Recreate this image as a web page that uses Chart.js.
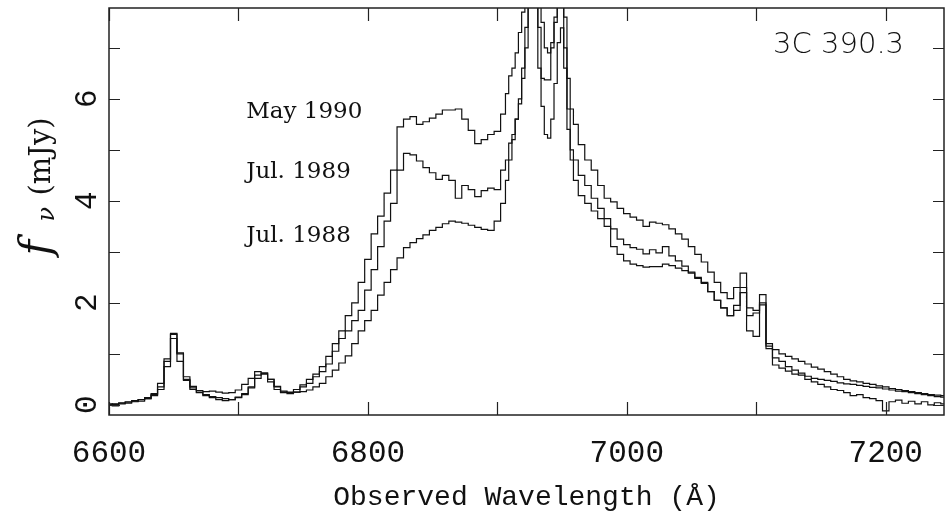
<!DOCTYPE html>
<html>
<head>
<meta charset="utf-8">
<script src="https://cdn.jsdelivr.net/npm/chart.js@4.4.1/dist/chart.umd.min.js"></script>
<style>
  html, body { margin: 0; padding: 0; background: #fff; }
  #spectrum { display: block; }
</style>
</head>
<body>
<canvas id="spectrum" width="945" height="514"></canvas>
<script>
// observed wavelength grid (Angstrom), finer across the narrow Halpha / [NII] peaks
var wavelength = [
  6600, 6605, 6610, 6615, 6620, 6625, 6630, 6635, 6640, 6645,
  6650, 6655, 6660, 6665, 6670, 6675, 6680, 6685, 6690, 6695,
  6700, 6705, 6710, 6715, 6720, 6725, 6730, 6735, 6740, 6745,
  6750, 6755, 6760, 6765, 6770, 6775, 6780, 6785, 6790, 6795,
  6800, 6805, 6810, 6815, 6820, 6825, 6830, 6835, 6840, 6845,
  6850, 6855, 6860, 6865, 6870, 6875, 6880, 6885, 6890, 6895,
  6900, 6905, 6907.5, 6910, 6912.5, 6915, 6917.5, 6920, 6922.5, 6925,
  6927.5, 6930, 6932.5, 6935, 6937.5, 6940, 6942.5, 6945, 6947.5, 6950,
  6952.5, 6955, 6957.5, 6960, 6965, 6970, 6975, 6980, 6985, 6990, 6995,
  7000, 7005, 7010, 7015, 7020, 7025, 7030, 7035, 7040, 7045,
  7050, 7055, 7060, 7065, 7070, 7075, 7080, 7085, 7090, 7095,
  7100, 7105, 7110, 7115, 7120, 7125, 7130, 7135, 7140, 7145,
  7150, 7155, 7160, 7165, 7170, 7175, 7180, 7185, 7190, 7195,
  7200, 7205, 7210, 7215, 7220, 7225, 7230, 7235, 7240, 7245
];

// f_nu in mJy
var may1990 = [
  0.00, 0.01, 0.03, 0.05, 0.07, 0.10, 0.14, 0.22, 0.42, 0.90,
  1.38, 1.00, 0.50, 0.33, 0.25, 0.20, 0.16, 0.14, 0.12, 0.10,
  0.14, 0.20, 0.33, 0.52, 0.62, 0.50, 0.36, 0.27, 0.25, 0.30,
  0.39, 0.50, 0.60, 0.75, 0.95, 1.20, 1.45, 1.75, 2.00, 2.40,
  2.85, 3.35, 3.70, 4.15, 4.60, 5.45, 5.60, 5.65, 5.50, 5.55,
  5.62, 5.70, 5.78, 5.78, 5.80, 5.60, 5.38, 5.12, 5.20, 5.30,
  5.36, 5.70, 6.10, 6.45, 6.60, 6.90, 7.30, 7.70, 9.00, 9.00,
  9.00, 9.00, 8.20, 7.50, 7.00, 6.90, 7.10, 7.50, 9.00, 9.00,
  7.60, 6.40, 5.80, 5.50, 5.10, 4.80, 4.60, 4.30, 4.05, 3.98, 3.85,
  3.75, 3.68, 3.62, 3.50, 3.58, 3.56, 3.53, 3.45, 3.35, 3.25,
  3.10, 2.95, 2.80, 2.60, 2.40, 2.20, 2.08, 2.30, 2.58, 1.90,
  1.85, 2.16, 1.20, 1.08, 1.00, 0.95, 0.90, 0.85, 0.80, 0.74,
  0.70, 0.65, 0.60, 0.55, 0.50, 0.47, 0.45, 0.42, 0.40, 0.37,
  0.35, 0.32, 0.30, 0.28, 0.26, 0.24, 0.22, 0.20, 0.19, 0.18
];

var jul1989 = [
  0.02, -0.02, 0.04, 0.03, 0.08, 0.07, 0.12, 0.20, 0.35, 0.85,
  1.40, 0.85, 0.48, 0.30, 0.24, 0.18, 0.14, 0.10, 0.08, 0.10,
  0.15, 0.22, 0.35, 0.58, 0.60, 0.50, 0.35, 0.25, 0.22, 0.25,
  0.35, 0.42, 0.55, 0.65, 0.80, 1.05, 1.30, 1.45, 1.65, 1.85,
  2.25, 2.65, 3.10, 3.60, 3.95, 4.60, 4.93, 4.90, 4.78, 4.65,
  4.55, 4.42, 4.50, 4.40, 4.05, 4.30, 4.22, 4.08, 4.20, 4.25,
  4.22, 4.60, 4.80, 5.13, 5.30, 5.60, 5.90, 6.40, 7.40, 9.00,
  9.00, 9.00, 7.40, 6.40, 6.37, 6.37, 7.00, 7.60, 9.00, 9.00,
  6.60, 5.40, 5.00, 4.80, 4.50, 4.30, 4.05, 3.85, 3.65, 3.45, 3.25,
  3.14, 3.08, 3.05, 2.96, 3.04, 2.98, 3.10, 2.92, 2.82, 2.72,
  2.60, 2.48, 2.38, 2.22, 2.05, 1.90, 1.75, 1.95, 2.30, 1.75,
  1.80, 2.00, 1.15, 0.78, 0.72, 0.66, 0.60, 0.58, 0.50, 0.45,
  0.40, 0.35, 0.30, 0.28, 0.24, 0.18, 0.20, 0.14, 0.12, 0.08,
  -0.12, 0.06, 0.09, 0.03, 0.07, 0.02, 0.06, 0.00, 0.04, 0.02
];

var jul1988 = [
  0.00, 0.02, 0.02, 0.06, 0.06, 0.10, 0.12, 0.18, 0.30, 0.75,
  1.30, 1.02, 0.55, 0.36, 0.28, 0.26, 0.27, 0.25, 0.23, 0.24,
  0.29, 0.40, 0.52, 0.65, 0.62, 0.45, 0.30, 0.24, 0.24, 0.25,
  0.26, 0.29, 0.35, 0.42, 0.55, 0.68, 0.82, 0.96, 1.20, 1.45,
  1.65, 1.85, 2.15, 2.40, 2.65, 2.88, 3.08, 3.18, 3.26, 3.33,
  3.42, 3.48, 3.55, 3.60, 3.58, 3.56, 3.52, 3.48, 3.44, 3.42,
  3.60, 3.95, 4.40, 4.80, 5.20, 5.60, 6.00, 6.60, 7.00, 9.00,
  9.00, 9.00, 6.60, 5.85, 5.30, 5.23, 5.60, 6.30, 7.10, 7.39,
  7.00, 5.80, 4.80, 4.40, 4.10, 3.95, 3.80, 3.65, 3.50, 3.10, 2.95,
  2.82, 2.76, 2.73, 2.70, 2.71, 2.71, 2.76, 2.73, 2.68, 2.63,
  2.58, 2.50, 2.40, 2.22, 2.05, 1.90, 1.75, 1.85, 2.20, 1.45,
  1.34, 1.96, 1.10, 0.92, 0.85, 0.75, 0.68, 0.62, 0.56, 0.52,
  0.50, 0.48, 0.46, 0.43, 0.41, 0.40, 0.38, 0.36, 0.34, 0.33,
  0.31, 0.29, 0.27, 0.26, 0.24, 0.22, 0.20, 0.18, 0.16, 0.15
];

var epochNames = ['May 1990', 'Jul. 1989', 'Jul. 1988'];
var objectName = '3C 390.3';
var xTicks = [6600, 6700, 6800, 6900, 7000, 7100, 7200];
var yTicks = [0, 1, 2, 3, 4, 5, 6, 7];
var yTickLabels = [0, 2, 4, 6];

function toPoints(ys) {
  var pts = [];
  for (var i in wavelength) {
    pts.push({x: wavelength[i], y: ys[i]});
  }
  return pts;
}

// frame, inward ticks, y labels and the texts inside the plot
var decorations = {
  id: 'decorations',
  afterDraw: function(chart) {
    var ctx = chart.ctx;
    var a = chart.chartArea;
    var xs = chart.scales.x;
    var ys = chart.scales.y;
    ctx.save();
    ctx.strokeStyle = '#222';
    ctx.lineWidth = 1.5;
    ctx.strokeRect(a.left, a.top, a.right - a.left, a.bottom - a.top);

    ctx.lineWidth = 1.2;
    ctx.beginPath();
    xTicks.forEach(function(v) {
      var px = Math.round(xs.getPixelForValue(v)) + 0.5;
      ctx.moveTo(px, a.bottom); ctx.lineTo(px, a.bottom - 13);
      ctx.moveTo(px, a.top); ctx.lineTo(px, a.top + 13);
    });
    yTicks.forEach(function(v) {
      var py = Math.round(ys.getPixelForValue(v)) + 0.5;
      ctx.moveTo(a.left, py); ctx.lineTo(a.left + 11, py);
      ctx.moveTo(a.right, py); ctx.lineTo(a.right - 11, py);
    });
    ctx.stroke();

    ctx.fillStyle = '#111';
    ctx.textAlign = 'center';
    ctx.textBaseline = 'middle';
    ctx.font = '31px "Liberation Mono"';
    yTickLabels.forEach(function(v) {
      ctx.save();
      ctx.translate(88, ys.getPixelForValue(v));
      ctx.rotate(-Math.PI / 2);
      ctx.fillText(String(v), 0, 0);
      ctx.restore();
    });

    // y axis title: f_nu (mJy), reading upward
    ctx.save();
    ctx.translate(40, (a.top + a.bottom) / 2 - 28);
    ctx.rotate(-Math.PI / 2);
    ctx.textAlign = 'left';
    ctx.textBaseline = 'alphabetic';
    ctx.font = 'italic 42px "DejaVu Serif"';
    ctx.fillText('f', -72, 10);
    ctx.font = 'italic 24px "DejaVu Serif"';
    ctx.fillText('\u03bd', -38, 14);
    ctx.font = '29px "DejaVu Serif"';
    ctx.fillText('(mJy)', -12, 10);
    ctx.restore();

    ctx.textAlign = 'left';
    ctx.font = '23px "DejaVu Serif"';
    var epochY = [5.75, 4.57, 3.31];
    epochNames.forEach(function(name, i) {
      ctx.fillText(name, xs.getPixelForValue(6706), ys.getPixelForValue(epochY[i]));
    });
    ctx.font = '200 29px "DejaVu Sans"';
    ctx.fillText(objectName, xs.getPixelForValue(7113), ys.getPixelForValue(7.04));
    ctx.restore();
  }
};

var line = {
  fill: false,
  borderColor: '#111',
  borderWidth: 1.2,
  stepped: 'middle',
  pointRadius: 0
};

var ctx = document.getElementById('spectrum');
var spectrumChart = new Chart(ctx, {
  type: 'line',
  data: {
    datasets: [
      Object.assign({label: epochNames[0], data: toPoints(may1990)}, line),
      Object.assign({label: epochNames[1], data: toPoints(jul1989)}, line),
      Object.assign({label: epochNames[2], data: toPoints(jul1988)}, line)
    ]
  },
  options: {
    responsive: false,
    animation: false,
    devicePixelRatio: 1,
    layout: { padding: { top: 8, right: 1, left: 0, bottom: 0 } },
    plugins: {
      legend: { display: false },
      tooltip: { enabled: false }
    },
    scales: {
      x: {
        type: 'linear',
        min: 6600,
        max: 7245,
        grid: { display: false },
        border: { display: false },
        ticks: {
          stepSize: 100,
          includeBounds: false,
          autoSkip: false,
          maxRotation: 0,
          padding: 12,
          color: '#111',
          font: { family: 'Liberation Mono', size: 31 },
          callback: function(v) { return v % 200 === 0 ? String(v) : ''; }
        },
        title: {
          display: true,
          text: 'Observed Wavelength (\u00c5)',
          color: '#111',
          padding: { top: 0, bottom: 0 },
          font: { family: 'Liberation Mono', size: 28 }
        },
        afterFit: function(scale) {
          scale.height = 99;
          scale.paddingRight = 0;
        }
      },
      y: {
        min: -0.2,
        max: 7.78,
        grid: { display: false },
        border: { display: false },
        ticks: { display: false },
        afterFit: function(scale) { scale.width = 109; }
      }
    }
  },
  plugins: [decorations]
});
</script>
</body>
</html>
